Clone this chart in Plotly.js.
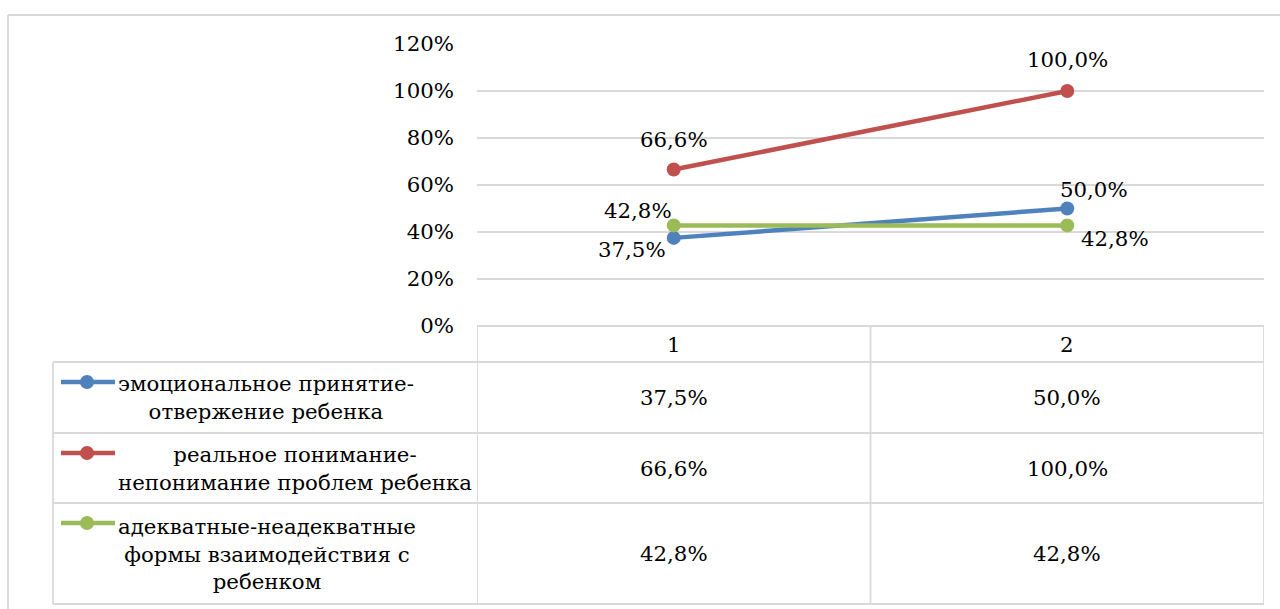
<!DOCTYPE html>
<html>
<head>
<meta charset="utf-8">
<script src="https://cdn.plot.ly/plotly-3.0.1.min.js"></script>
<style>html,body{margin:0;padding:0;background:#fff;}#chart{width:1280px;height:609px;}</style>
</head>
<body>
<div id="chart"></div>
<script>
// ---- data ----
const categories = [1, 2];
const seriesNames = [
  "эмоциональное принятие-<br>отвержение ребенка",
  "реальное понимание-<br>непонимание проблем ребенка",
  "адекватные-неадекватные<br>формы взаимодействия с<br>ребенком"
];
const emotional = [0.375, 0.500];
const understanding = [0.666, 1.000];
const interaction = [0.428, 0.428];
const yTicks = [0, 0.2, 0.4, 0.6, 0.8, 1.0, 1.2];

// ---- styles ----
const seriesValues = [emotional, understanding, interaction];
const colors = ["#4f81bd", "#c0504d", "#9bbb59"];
const FONT = "DejaVu Serif";
const FS = 21.3;
const GRID = "#d9d9d9";

// plot area in pixels
const L = 477, R = 1264, T = 44, B = 326;
const W = 1280, H = 609;
const px = x => (x - L) / (R - L);
const py = y => (B - y) / (B - T);

// label offsets per series/point (pixels)
const labelShift = [
  [[-42, -12], [27, 19]],
  [[0, 30], [0, 32]],
  [[-36, 15], [48, -13]]
];

const fmt = v => (v * 100).toFixed(1).replace('.', ',') + '%';

const traces = seriesValues.map((vals, i) => ({
  type: 'scatter', mode: 'lines+markers',
  x: categories, y: vals,
  line: {color: colors[i], width: 4.5},
  marker: {color: colors[i], size: 14},
  showlegend: false, hoverinfo: 'skip'
}));

const annotations = [];
const shapes = [];

// data labels
seriesValues.forEach((vals, i) => {
  vals.forEach((v, j) => {
    annotations.push({
      xref: 'x', yref: 'y', x: categories[j], y: v,
      text: fmt(v), showarrow: false,
      xshift: labelShift[i][j][0], yshift: labelShift[i][j][1],
      font: {family: FONT, size: FS, color: '#000'}
    });
  });
});

// table geometry (pixels)
const headerTop = 326, headerBottom = 362;
const rowBounds = [362, 433, 503, 604];
const keyLeft = 53;

// header labels
categories.forEach(c => {
  annotations.push({
    xref: 'x', yref: 'paper', x: c, y: py((headerTop + headerBottom) / 2),
    text: String(c), showarrow: false, yanchor: 'middle',
    font: {family: FONT, size: FS, color: '#000'}
  });
});

// table values + legend keys
seriesValues.forEach((vals, i) => {
  const top = rowBounds[i], bot = rowBounds[i + 1];
  const mid = (top + bot) / 2;
  vals.forEach((v, j) => {
    annotations.push({
      xref: 'x', yref: 'paper', x: categories[j], y: py(mid),
      text: fmt(v), showarrow: false, yanchor: 'middle',
      font: {family: FONT, size: FS, color: '#000'}
    });
  });
  annotations.push({
    xref: 'paper', yref: 'paper', x: px(116), y: py(mid),
    xanchor: 'left', yanchor: 'middle', align: 'center',
    text: seriesNames[i], showarrow: false,
    font: {family: FONT, size: FS, color: '#000'}
  });
  const ky = top + 20;
  shapes.push({type: 'line', xref: 'paper', yref: 'paper',
    x0: px(61), x1: px(115), y0: py(ky), y1: py(ky),
    line: {color: colors[i], width: 4.5}});
  shapes.push({type: 'circle', xref: 'paper', yref: 'paper',
    x0: px(80), x1: px(94), y0: py(ky - 7), y1: py(ky + 7),
    fillcolor: colors[i], line: {color: colors[i], width: 0}});
});

// table grid lines
const gl = {color: GRID, width: 1.8};
shapes.push({type: 'line', xref: 'x', yref: 'paper', x0: 0.5, x1: 2.5, y0: py(headerTop), y1: py(headerTop), line: gl});
rowBounds.forEach(y => {
  shapes.push({type: 'line', xref: 'paper', yref: 'paper', x0: px(keyLeft), x1: 1, y0: py(y), y1: py(y), line: gl});
});
[0.5, 1.5, 2.5].forEach(x => {
  shapes.push({type: 'line', xref: 'x', yref: 'paper', x0: x, x1: x, y0: py(headerTop), y1: py(rowBounds[3]), line: gl});
});
shapes.push({type: 'line', xref: 'paper', yref: 'paper', x0: px(keyLeft), x1: px(keyLeft), y0: py(rowBounds[0]), y1: py(rowBounds[3]), line: gl});
// outer chart border
shapes.push({type: 'line', xref: 'paper', yref: 'paper', x0: px(8), x1: px(1290), y0: py(15), y1: py(15), line: {color: GRID, width: 2}});
shapes.push({type: 'line', xref: 'paper', yref: 'paper', x0: px(8), x1: px(8), y0: py(15), y1: py(620), line: {color: GRID, width: 2}});

const layout = {
  width: W, height: H,
  margin: {l: L, r: W - R, t: T, b: H - B, pad: 0},
  paper_bgcolor: '#fff', plot_bgcolor: '#fff',
  font: {family: FONT, size: FS, color: '#000'},
  showlegend: false,
  xaxis: {range: [0.5, 2.5], showgrid: false, zeroline: false, showticklabels: false, ticks: '', showline: false, fixedrange: true},
  yaxis: {range: [0, 1.2], tickvals: yTicks, tickformat: '.0%', showgrid: true, gridcolor: GRID, gridwidth: 1.8,
          zeroline: false, showline: false, ticks: '', ticklabelstandoff: 22,
          tickfont: {family: FONT, size: FS, color: '#000'}, fixedrange: true},
  annotations: annotations,
  shapes: shapes
};

Plotly.newPlot('chart', traces, layout, {displayModeBar: false, staticPlot: true});
</script>
</body>
</html>
